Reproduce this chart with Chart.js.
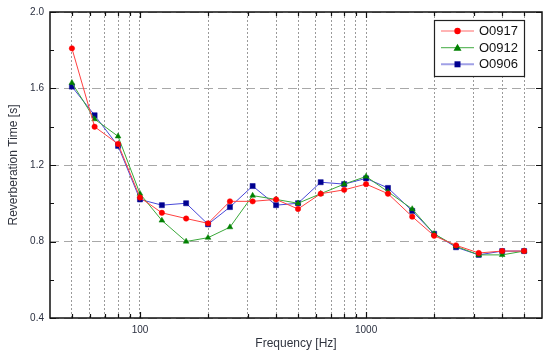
<!DOCTYPE html>
<html>
<head>
<meta charset="utf-8">
<script src="https://cdn.jsdelivr.net/npm/chart.js@4.4.0/dist/chart.umd.min.js"></script>
<style>
html,body{margin:0;padding:0;background:#fff;}
#wrap{width:548px;height:355px;}
</style>
</head>
<body>
<div id="wrap"><canvas id="c" width="548" height="355"></canvas></div>
<script>
const freqs = [50,63,80,100,125,160,200,250,315,400,500,630,800,1000,1250,1600,2000,2500,3150,4000,5000];
const o0917 = [1.81,1.40,1.31,1.03,0.95,0.92,0.895,1.01,1.01,1.02,0.97,1.05,1.07,1.10,1.05,0.93,0.83,0.78,0.74,0.75,0.75];
const o0912 = [1.63,1.44,1.35,1.05,0.91,0.80,0.82,0.875,1.04,1.02,1.00,1.05,1.10,1.14,1.06,0.97,0.84,0.775,0.73,0.73,0.75];
const o0906 = [1.61,1.46,1.30,1.02,0.99,1.00,0.89,0.98,1.09,0.99,1.00,1.11,1.10,1.13,1.08,0.96,0.84,0.77,0.73,0.75,0.75];
const seriesNames = ['O0917','O0912','O0906'];
const xGridValues = [50,60,70,80,90,100,200,300,400,500,600,700,800,900,1000,2000,3000,4000,5000];
const xMajorLabels = {100:'100',1000:'1000'};
const yTickValues = [0.4,0.8,1.2,1.6,2.0];
const yMinorValues = [0.6,1.0,1.4,1.8];
const xTitle = 'Frequency [Hz]';
const yTitle = 'Reverberation Time [s]';

const styles = [
  {line:'#ff4040', marker:'#ff0000', legendLine:'#ff6a6a', shape:'circle', r:2.7},
  {line:'#3aa83a', marker:'#008000', legendLine:'#66bb66', shape:'triangle', r:3.3},
  {line:'#4848d8', marker:'#000090', legendLine:'#a0a0e6', shape:'rect', r:3.6}
];
const allSeries = [o0917,o0912,o0906];

const datasets = allSeries.map((arr,k)=>({
  label: seriesNames[k],
  data: freqs.map((f,i)=>({x:f,y:arr[i]})),
  borderColor: styles[k].line,
  backgroundColor: styles[k].marker,
  pointBackgroundColor: styles[k].marker,
  pointBorderColor: styles[k].marker,
  pointStyle: styles[k].shape,
  pointRadius: styles[k].r,
  pointBorderWidth: 0.5,
  borderWidth: 1,
  tension: 0
}));

const framePlugin = {
  id:'frame',
  afterDraw(chart){
    const ctx = chart.ctx;
    const a = chart.chartArea;
    const xs = chart.scales.x, ys = chart.scales.y;
    ctx.save();
    ctx.strokeStyle = '#111';
    ctx.lineWidth = 1.5;
    ctx.strokeRect(a.left, a.top, a.right-a.left, a.bottom-a.top);
    ctx.lineWidth = 1.2;
    ctx.beginPath();
    xGridValues.forEach(v=>{
      const px = Math.round(xs.getPixelForValue(v))+0.5;
      const len = xMajorLabels[v] ? 6 : 4;
      ctx.moveTo(px, a.bottom); ctx.lineTo(px, a.bottom-len);
      ctx.moveTo(px, a.top); ctx.lineTo(px, a.top+len);
    });
    yTickValues.forEach(v=>{
      const py = Math.round(ys.getPixelForValue(v))+0.5;
      ctx.moveTo(a.left, py); ctx.lineTo(a.left+6, py);
      ctx.moveTo(a.right, py); ctx.lineTo(a.right-6, py);
    });
    yMinorValues.forEach(v=>{
      const py = Math.round(ys.getPixelForValue(v))+0.5;
      ctx.moveTo(a.left, py); ctx.lineTo(a.left+4, py);
      ctx.moveTo(a.right, py); ctx.lineTo(a.right-4, py);
    });
    ctx.stroke();
    ctx.fillStyle = '#30343f';
    ctx.font = '12px "Liberation Sans", Arial, sans-serif';
    ctx.textAlign = 'center';
    ctx.textBaseline = 'middle';
    ctx.fillText(xTitle, (a.left+a.right)/2, 344);
    ctx.save();
    ctx.translate(14, (a.top+a.bottom)/2);
    ctx.rotate(-Math.PI/2);
    ctx.fillText(yTitle, 0, 0);
    ctx.restore();
    const lx = 434, ly = 20, lw = 90, lh = 56;
    ctx.fillStyle = '#fff';
    ctx.fillRect(lx, ly, lw, lh);
    ctx.strokeStyle = '#222';
    ctx.lineWidth = 1.2;
    ctx.strokeRect(lx+0.5, ly+0.5, lw, lh);
    const rows = [31, 47.7, 64.3];
    ctx.font = '13px "Liberation Sans", Arial, sans-serif';
    ctx.textAlign = 'left';
    rows.forEach((ry,k)=>{
      const st = styles[k];
      ctx.strokeStyle = st.legendLine;
      ctx.lineWidth = k===2 ? 2 : 1.2;
      ctx.beginPath(); ctx.moveTo(441, ry); ctx.lineTo(474, ry); ctx.stroke();
      ctx.fillStyle = st.marker;
      const cx = 457.5;
      ctx.beginPath();
      if (st.shape==='circle'){ ctx.arc(cx, ry, 3.2, 0, Math.PI*2); }
      else if (st.shape==='triangle'){ ctx.moveTo(cx, ry-4); ctx.lineTo(cx+4, ry+3); ctx.lineTo(cx-4, ry+3); ctx.closePath(); }
      else { ctx.rect(cx-3, ry-3, 6, 6); }
      ctx.fill();
      ctx.fillStyle = '#111';
      ctx.fillText(seriesNames[k], 479, ry+0.5);
    });
    ctx.restore();
  }
};

new Chart(document.getElementById('c'), {
  type:'line',
  data:{datasets},
  options:{
    responsive:false,
    animation:false,
    layout:{padding:{top:12,right:6,left:0,bottom:0}},
    plugins:{legend:{display:false},tooltip:{enabled:false}},
    scales:{
      x:{
        type:'logarithmic',
        min:40, max:6000,
        afterBuildTicks(s){ s.ticks = xGridValues.map(v=>({value:v})); },
        afterFit(s){ s.height = 37; },
        grid:{color:'#9a9a9a', lineWidth:1, drawTicks:false},
        border:{display:false, dash:[2,2]},
        ticks:{
          autoSkip:false, maxRotation:0, minRotation:0, padding:6,
          color:'#2b3040', font:{family:'"Liberation Sans", Arial, sans-serif', size:10},
          callback(v){ return xMajorLabels[v] || ''; }
        }
      },
      y:{
        type:'linear',
        min:0.4, max:2.0,
        afterBuildTicks(s){ s.ticks = yTickValues.map(v=>({value:v})); },
        afterFit(s){ s.width = 50; },
        grid:{color:'#a8a8a8', lineWidth:1, drawTicks:false},
        border:{display:false, dash:[9,5]},
        ticks:{
          padding:6, color:'#2b3040',
          font:{family:'"Liberation Sans", Arial, sans-serif', size:10},
          callback(v){ return Number(v).toFixed(1); }
        }
      }
    }
  },
  plugins:[framePlugin]
});
</script>
</body>
</html>
